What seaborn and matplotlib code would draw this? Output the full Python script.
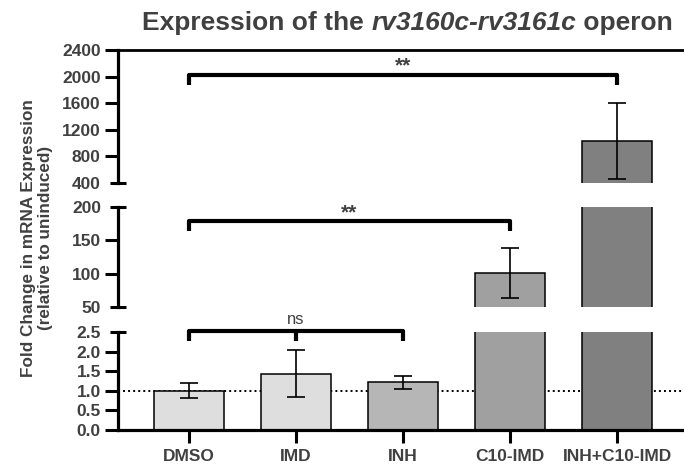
import numpy as np
import pandas as pd
import matplotlib
matplotlib.use("Agg")
import matplotlib.pyplot as plt
import seaborn as sns

# ---------------- data ----------------
categories = ["DMSO", "IMD", "INH", "C10-IMD", "INH+C10-IMD"]
fold_change = [1.0, 1.43, 1.22, 101.0, 1030.0]
fold_error = [0.19, 0.60, 0.17, 37.0, 575.0]
bar_colors = ["#dedede", "#dedede", "#b6b6b6", "#a0a0a0", "#808080"]

top_ticks = [800, 1200, 1600, 2000, 2400]
top_break = [400]
mid_ticks = [100, 150]
mid_break = [50, 200]
low_ticks = [0.0, 0.5, 1.0, 1.5, 2.0]
low_break = [2.5]

# comparisons: (first group, last group, label)
comparisons = [(0, 4, "**"), (0, 3, "**"), (0, 2, "ns")]

# ---------------- style ----------------
sns.set_theme(style="white")
plt.rcParams["font.family"] = ["Liberation Sans", "DejaVu Sans"]
TXT = "#404040"

W, H = 684, 468
fig = plt.figure(figsize=(W / 100, H / 100), dpi=100)


def px_axes(left, top, right, bottom):
    return fig.add_axes([left / W, 1 - bottom / H, (right - left) / W, (bottom - top) / H])


ax_top = px_axes(118, 50, 688, 183)
ax_mid = px_axes(118, 207, 688, 307)
ax_low = px_axes(118, 332, 688, 430)

df = pd.DataFrame({"group": categories, "fold": fold_change})
pal = dict(zip(categories, bar_colors))

panels = [
    (ax_top, (400, 2400), top_ticks, top_break, "{:.0f}"),
    (ax_mid, (50, 200), mid_ticks, mid_break, "{:.0f}"),
    (ax_low, (0, 2.5), low_ticks, low_break, "{:.1f}"),
]

for ax, lim, ticks, brk, fmt in panels:
    ax.set_facecolor("white")
    if ax is ax_low:
        ax.axhline(1.0, color="black", ls=(0, (1, 1.6)), lw=1.4, zorder=0)
    sns.barplot(data=df, x="group", y="fold", hue="group", palette=pal,
                order=categories, hue_order=categories, width=0.65,
                edgecolor="black", linewidth=1.1, legend=False, ax=ax,
                errorbar=None, zorder=2, saturation=1)
    ax.errorbar(np.arange(len(categories)), fold_change, yerr=fold_error,
                fmt="none", ecolor="black", elinewidth=1.2, capsize=6.5,
                capthick=1.2, zorder=3)
    ax.set_xlim(-0.66, 4.66)
    ax.set_ylim(*lim)
    ax.set_xlabel("")
    ax.set_ylabel("")
    for s in ["right", "top", "bottom"]:
        ax.spines[s].set_visible(False)
    ax.spines["left"].set_linewidth(2.3)
    ax.spines["left"].set_color("black")
    ax.set_yticks(ticks, labels=[fmt.format(t) for t in ticks],
                  fontweight="bold", fontsize=12.5, color=TXT)
    ax.set_yticks(brk, labels=[fmt.format(t) for t in brk], minor=True,
                  fontweight="bold", fontsize=12.5, color=TXT)
    ax.tick_params(axis="y", which="major", direction="out", length=9.4,
                   width=2.2, color="black", pad=3.0, left=True)
    ax.tick_params(axis="y", which="minor", direction="inout", length=11.5,
                   width=2.2, color="black", pad=6.5, left=True)
    if ax is not ax_low:
        ax.tick_params(axis="x", bottom=False, labelbottom=False)

ax_top.spines["top"].set_visible(True)
ax_top.spines["top"].set_linewidth(2.0)
ax_top.spines["top"].set_color("black")

ax_low.spines["bottom"].set_visible(True)
ax_low.spines["bottom"].set_linewidth(2.3)
ax_low.spines["bottom"].set_color("black")
ax_low.set_xticks(range(len(categories)), labels=categories,
                  fontweight="bold", fontsize=12.5, color=TXT)
ax_low.tick_params(axis="x", direction="out", length=9.4, width=2.2,
                   color="black", pad=4, bottom=True)

# significance brackets: (axes, line y, end y, text y)
bracket_pos = [(ax_top, 2024, 1873, 2160),
               (ax_mid, 179, 164, 191),
               (ax_low, 2.53, 2.27, 2.83)]
for (i0, i1, label), (ax, yl, ye, yt) in zip(comparisons, bracket_pos):
    ax.plot([i0, i0, i1, i1], [ye, yl, yl, ye], color="black", lw=3,
            clip_on=False, solid_joinstyle="round", solid_capstyle="butt", zorder=5)
    if label == "ns":
        ax.plot([(i0 + i1) / 2] * 2, [ye, yl], color="black", lw=3,
                clip_on=False, solid_capstyle="butt", zorder=5)
        ax.text((i0 + i1) / 2, yt, label, ha="center", va="center",
                fontsize=12, color=TXT, clip_on=False)
    else:
        ax.text((i0 + i1) / 2, yt, label, ha="center", va="center",
                fontsize=15, fontweight="bold", color=TXT, clip_on=False)

# y label
fig.text(37 / W, 1 - 238 / H,
         "Fold Change in mRNA Expression\n(relative to uninduced)",
         rotation=90, ha="center", va="center", fontsize=12.3,
         fontweight="bold", color=TXT, linespacing=1.2)

# title with italic gene name
parts = [("Expression of the ", "normal"), ("rv3160c-rv3161c", "italic"),
         (" operon", "normal")]
renderer = fig.canvas.get_renderer()
texts = []
for s, style in parts:
    t = fig.text(0, 1 - 30 / H, s, fontsize=19, fontweight="bold",
                 style=style, color=TXT, ha="left", va="baseline")
    texts.append(t)
widths = [t.get_window_extent(renderer).width for t in texts]
x = 407.5 - sum(widths) / 2
for t, w in zip(texts, widths):
    t.set_x(x / W)
    x += w

fig.savefig("out.png", dpi=100, facecolor="white")
